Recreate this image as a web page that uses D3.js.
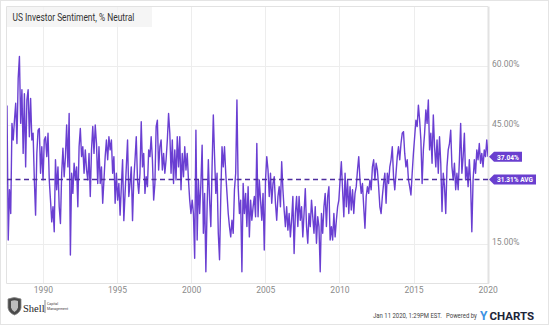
<!DOCTYPE html>
<html><head><meta charset="utf-8">
<script src="https://cdn.jsdelivr.net/npm/d3@7"></script>
<style>body{margin:0;background:#fff}svg{display:block;font-family:Roboto,'Noto Sans',sans-serif}</style>
</head><body>
<svg id="c" width="549" height="325"></svg>
<script>
// % Neutral readings (approx. monthly samples), Aug 1987 -> Jan 2020
const values = [
50.0,16.0,28.7,22.7,45.5,41.3,46.3,50.6,40.4,56.9,62.4,45.5,54.0,37.9,53.0,34.5,51.4,54.0,42.1,51.8,
41.3,43.0,31.2,22.3,37.9,43.8,44.2,32.9,39.6,31.2,41.3,42.1,37.1,43.0,31.2,26.1,20.6,24.4,18.1,36.3,
28.7,34.5,24.4,20.2,32.9,39.2,32.0,37.1,45.1,34.5,48.0,12.2,32.9,27.8,35.4,31.2,34.5,24.4,39.6,44.2,
37.1,39.6,32.9,38.8,33.7,31.2,37.9,27.0,38.8,44.7,37.9,45.1,40.4,30.3,39.6,30.3,34.5,25.3,31.2,37.1,
41.3,36.3,42.1,38.8,41.3,32.9,37.1,25.3,32.9,26.1,30.3,22.3,29.5,36.3,20.9,27.8,34.5,41.3,27.0,30.3,
34.5,20.9,31.2,36.3,42.1,31.2,27.8,32.9,45.9,34.5,37.9,27.8,32.0,29.5,38.8,37.1,42.1,36.3,26.1,30.3,
44.7,46.3,33.7,39.6,41.3,33.7,37.9,32.9,36.3,41.3,48.0,43.0,32.9,41.3,30.3,38.8,31.2,42.1,34.5,42.1,
28.7,37.9,32.0,39.6,33.7,37.9,31.2,26.1,22.7,26.1,22.7,11.4,43.8,16.0,31.2,22.7,30.3,40.0,17.7,27.8,
8.0,24.4,36.3,26.1,19.4,34.5,47.6,37.1,27.8,32.9,17.7,11.0,27.0,39.6,34.5,39.6,32.9,27.8,22.7,19.4,
16.8,21.0,17.7,28.7,32.9,51.4,29.5,22.7,26.1,8.0,30.3,22.7,27.8,19.4,29.5,16.8,26.1,21.0,24.4,27.0,
21.9,40.4,21.9,31.2,26.1,21.0,27.8,13.5,31.2,37.1,33.7,27.0,32.9,25.3,30.3,32.0,25.3,21.0,27.0,29.5,
24.4,35.8,28.7,23.6,19.4,24.4,18.5,22.7,16.8,21.0,27.0,12.6,22.7,27.0,19.4,27.0,21.0,24.4,16.8,22.7,
29.0,19.4,15.2,22.7,19.4,26.1,21.9,17.7,24.4,15.2,21.9,19.4,8.0,22.7,17.7,24.4,27.8,19.4,27.0,29.5,
16.0,19.4,16.0,22.7,16.8,21.0,24.4,26.1,31.2,35.8,28.7,21.9,32.9,24.4,31.2,22.7,29.5,23.6,28.7,22.7,
27.8,29.5,33.7,37.1,31.2,27.8,30.3,24.4,19.0,27.0,29.5,27.8,31.2,28.7,34.5,36.3,31.2,35.4,33.7,29.5,
24.4,22.7,27.0,30.3,32.9,25.3,32.9,30.3,34.5,36.3,39.6,32.0,28.7,32.9,37.1,39.6,36.3,40.4,43.0,43.4,
37.9,34.5,36.3,31.2,29.5,27.4,32.9,37.9,42.1,46.3,44.7,50.1,46.3,41.3,30.3,38.8,43.0,48.9,45.5,51.4,
38.8,43.0,35.4,47.6,39.6,34.5,41.3,32.9,42.1,35.4,23.2,32.9,29.5,22.7,34.5,38.8,40.4,43.8,34.5,31.2,
35.4,28.7,32.9,28.7,36.3,45.5,32.9,37.1,43.0,31.2,34.5,29.5,36.3,30.3,18.1,31.2,36.3,32.9,38.8,36.3,
40.4,35.4,37.9,34.5,38.8,37.1,41.3,37.04
];
const avgValue = 31.31;
const lastValue = values[values.length - 1];
const startDate = new Date(1987, 7, 1);
const endDate = new Date(2020, 0, 10);
const xTickYears = [1990, 1995, 2000, 2005, 2010, 2015, 2020];
const yGridTicks = [15, 30, 45, 60];
const yLabelTicks = [15, 45, 60];
const titleText = "US Investor Sentiment, % Neutral";

const svg = d3.select("#c");
const L = 6.5, R = 488, T = 6.5, B = 283.5;
const x = d3.scaleTime().domain([startDate, endDate]).range([7, 488]);
const y = d3.scaleLinear().domain([15, 60]).range([244, 66]);
const step = (endDate - startDate) / (values.length - 1);
const data = values.map((v, i) => ({date: new Date(+startDate + i * step), value: v}));

// text squeezed horizontally to a target width (real glyph geometry)
function fitText(parent, str, px, py, size, targetW, attrs) {
  const t = parent.append("text").attr("font-size", size).text(str);
  Object.entries(attrs || {}).forEach(([k, v]) => t.attr(k, v));
  const w = t.node().getComputedTextLength();
  const s = Math.min(1, targetW / w);
  t.attr("transform", `translate(${px},${py}) scale(${s},1)`);
  return t;
}

// outer border
svg.append("rect").attr("x", 0.5).attr("y", 0.5).attr("width", 548).attr("height", 324)
  .attr("fill", "#fff").attr("stroke", "#e4e4e4");

// grid
svg.append("g").selectAll("line").data(xTickYears.filter(d => d < 2020)).join("line")
  .attr("x1", d => Math.round(x(new Date(d, 0, 1))) + 0.5).attr("x2", d => Math.round(x(new Date(d, 0, 1))) + 0.5)
  .attr("y1", T).attr("y2", B).attr("stroke", "#ededed");
svg.append("g").selectAll("line").data(yGridTicks).join("line")
  .attr("x1", L).attr("x2", R).attr("y1", d => Math.round(y(d)) + 0.5).attr("y2", d => Math.round(y(d)) + 0.5)
  .attr("stroke", "#ededed");

// frame
svg.append("path").attr("d", `M${L},${B}V${T}H${R}`).attr("fill", "none").attr("stroke", "#e2e2e2");
svg.append("line").attr("x1", L).attr("x2", R + 1).attr("y1", B).attr("y2", B).attr("stroke", "#e2e2e2");
svg.append("line").attr("x1", R + 0.5).attr("x2", R + 0.5).attr("y1", T).attr("y2", B).attr("stroke", "#e2e2e2").attr("stroke-width", 2);

// title box
svg.append("rect").attr("x", 7).attr("y", 7).attr("width", 145).attr("height", 20)
  .attr("fill", "#f2f2f2").attr("fill-opacity", 0.75);
fitText(svg, titleText, 12.5, 20.5, 10.5, 122, {fill: "#333"});

// clip
svg.append("clipPath").attr("id", "clip").append("rect").attr("x", 7).attr("y", 7).attr("width", 481).attr("height", 276);

// series
const line = d3.line().x(d => x(d.date)).y(d => y(d.value));
svg.append("path").datum(data).attr("clip-path", "url(#clip)")
  .attr("d", line).attr("fill", "none").attr("stroke", "#6a3fd2").attr("stroke-width", 1.4)
  .attr("stroke-linejoin", "round");

// average line
svg.append("line").attr("x1", 7).attr("x2", 488).attr("y1", y(avgValue)).attr("y2", y(avgValue))
  .attr("stroke", "#4e2d9e").attr("stroke-width", 1.3).attr("stroke-dasharray", "5,3.5");

// right axis labels
const yAxis = d3.axisRight(y).tickValues(yLabelTicks).tickFormat(d => d.toFixed(2) + "%").tickSize(0).tickPadding(0);
const gy = svg.append("g").attr("transform", "translate(492,-2)").call(yAxis);
gy.select(".domain").remove();
gy.selectAll("text").attr("font-size", 8.5).attr("fill", "#8a8a8a").attr("font-family", "Roboto, sans-serif");

// bottom axis labels
const xAxis = d3.axisBottom(x).tickValues(xTickYears.map(d => new Date(d, 0, 1))).tickFormat(d3.timeFormat("%Y")).tickSize(0).tickPadding(0);
const gx = svg.append("g").attr("transform", "translate(0,287)").call(xAxis);
gx.select(".domain").remove();
gx.selectAll("text").attr("font-size", 8.5).attr("fill", "#8a8a8a").attr("font-family", "Roboto, sans-serif");

// tags
function tag(val, label, w, tw) {
  const cy = y(val);
  const g = svg.append("g");
  g.append("path").attr("d", `M489,${cy}L494,${cy - 5}H${494 + w}V${cy + 5}H494Z`).attr("fill", "#6a3fcf");
  fitText(g, label, 497, cy + 3, 8, tw, {"font-weight": "bold", fill: "#fff"});
}
tag(lastValue, lastValue.toFixed(2) + "%", 28, 22);
tag(avgValue, avgValue.toFixed(2) + "% AVG", 42, 36);

// footer
fitText(svg, "Jan 11 2020, 1:29PM EST.", 373, 318, 7.5, 69, {fill: "#444"});
fitText(svg, "Powered by", 446, 318, 7.5, 31, {fill: "#444"});
svg.append("text").attr("x", 480).attr("y", 319.5).attr("font-size", 12).attr("font-weight", "bold")
  .attr("fill", "#3b92e3").text("Y");
fitText(svg, "CHARTS", 489.5, 319.5, 11.5, 55, {"font-weight": "bold", fill: "#1c2438"});

// logo
const lg = svg.append("g");
lg.append("path").attr("d", "M8,299 Q14,296 21,299 L21,308 Q20,313 14.5,315 Q9,313 8,308 Z")
  .attr("fill", "#4a4a4a").attr("stroke", "#888").attr("stroke-width", 0.8);
lg.append("path").attr("d", "M11,301 Q14.5,299.5 18,301 L18,307.5 Q17,311 14.5,312 Q12,311 11,307.5 Z")
  .attr("fill", "#bdbdbd");
lg.append("text").attr("x", 23).attr("y", 311.5).attr("font-size", 10.5).attr("font-family", "'Liberation Serif','DejaVu Serif',serif")
  .attr("fill", "#222").text("Shell");
lg.append("line").attr("x1", 45).attr("x2", 45).attr("y1", 300).attr("y2", 313).attr("stroke", "#555").attr("stroke-width", 0.7);
lg.append("text").attr("x", 47).attr("y", 305).attr("font-size", 3.6).attr("fill", "#444").text("Capital");
lg.append("text").attr("x", 47).attr("y", 310).attr("font-size", 3.6).attr("fill", "#444").text("Management");
</script>
</body></html>
